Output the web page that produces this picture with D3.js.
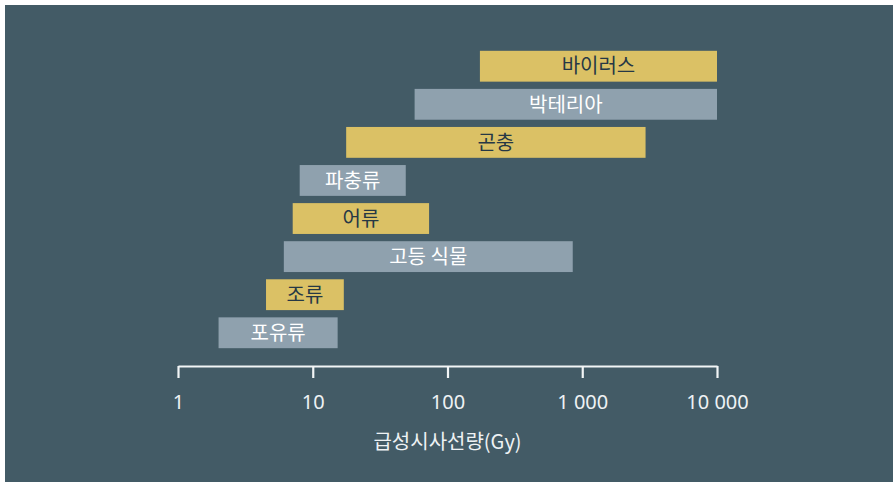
<!DOCTYPE html>
<html>
<head>
<meta charset="utf-8">
<script src="https://cdn.jsdelivr.net/npm/d3@7"></script>
<style>
  html, body { margin: 0; padding: 0; background: #ffffff; }
  svg { display: block; font-family: "Noto Sans CJK KR", "Noto Sans", sans-serif; }
</style>
</head>
<body>
<svg id="chart" width="893" height="484"></svg>
<script>
// top to bottom
var groups = ["바이러스", "박테리아", "곤충", "파충류", "어류", "고등 식물", "조류", "포유류"];
var lowDose = [174, 57, 17.7, 8, 7.1, 6.1, 4.5, 2];
var highDose = [10000, 10000, 2950, 49, 73, 850, 17, 15.3];
var kinds = ["y", "g", "y", "g", "y", "g", "y", "g"];
var tickValues = [1, 10, 100, 1000, 10000];
var tickLabels = ["1", "10", "100", "1 000", "10 000"];
var axisTitle = "급성시사선량(Gy)";

var svg = d3.select("#chart"),
    width = +svg.attr("width"),
    height = +svg.attr("height");

var fillFor = { y: "#dbc165", g: "#8fa1ae" };
var textFor = { y: "#263845", g: "#ffffff" };

svg.append("rect")
    .attr("x", 5).attr("y", 5)
    .attr("width", width - 5).attr("height", height - 7)
    .attr("fill", "#435b66");

var x = d3.scaleLog().domain([1, 10000]).range([178, 717]);
var y = d3.scaleBand().domain(groups).range([47, 352]).paddingInner(0.19).paddingOuter(0.1);

var rows = groups.map(function (g, i) {
    return { name: g, lo: lowDose[i], hi: highDose[i], kind: kinds[i] };
});

var bar = svg.selectAll(".bar")
    .data(rows)
    .enter().append("g")
    .attr("class", "bar");

bar.append("rect")
    .attr("x", function (d) { return x(d.lo); })
    .attr("y", function (d) { return y(d.name); })
    .attr("width", function (d) { return x(d.hi) - x(d.lo); })
    .attr("height", y.bandwidth())
    .attr("fill", function (d) { return fillFor[d.kind]; });

bar.append("text")
    .attr("x", function (d) { return (x(d.lo) + x(d.hi)) / 2; })
    .attr("y", function (d) { return y(d.name) + y.bandwidth() / 2; })
    .attr("dy", "0.36em")
    .attr("text-anchor", "middle")
    .attr("font-size", 20)
    .attr("fill", function (d) { return textFor[d.kind]; })
    .text(function (d) { return d.name; });

var axis = svg.append("g")
    .attr("transform", "translate(0,366)")
    .call(d3.axisBottom(x)
        .tickValues(tickValues)
        .tickFormat(function (d, i) { return tickLabels[i]; })
        .tickSize(12)
        .tickSizeOuter(0)
        .tickPadding(17));

axis.select(".domain").attr("stroke", "#f2f5f6").attr("stroke-width", 2.2);
axis.selectAll(".tick line").attr("stroke", "#f2f5f6").attr("stroke-width", 2.2);
axis.selectAll(".tick text")
    .attr("fill", "#eef2f4")
    .attr("font-size", 20)
    .attr("font-family", "'Noto Sans', sans-serif");

svg.append("text")
    .attr("x", x(100))
    .attr("y", 449)
    .attr("text-anchor", "middle")
    .attr("font-size", 20)
    .attr("fill", "#eef2f4")
    .text(axisTitle);
</script>
</body>
</html>
